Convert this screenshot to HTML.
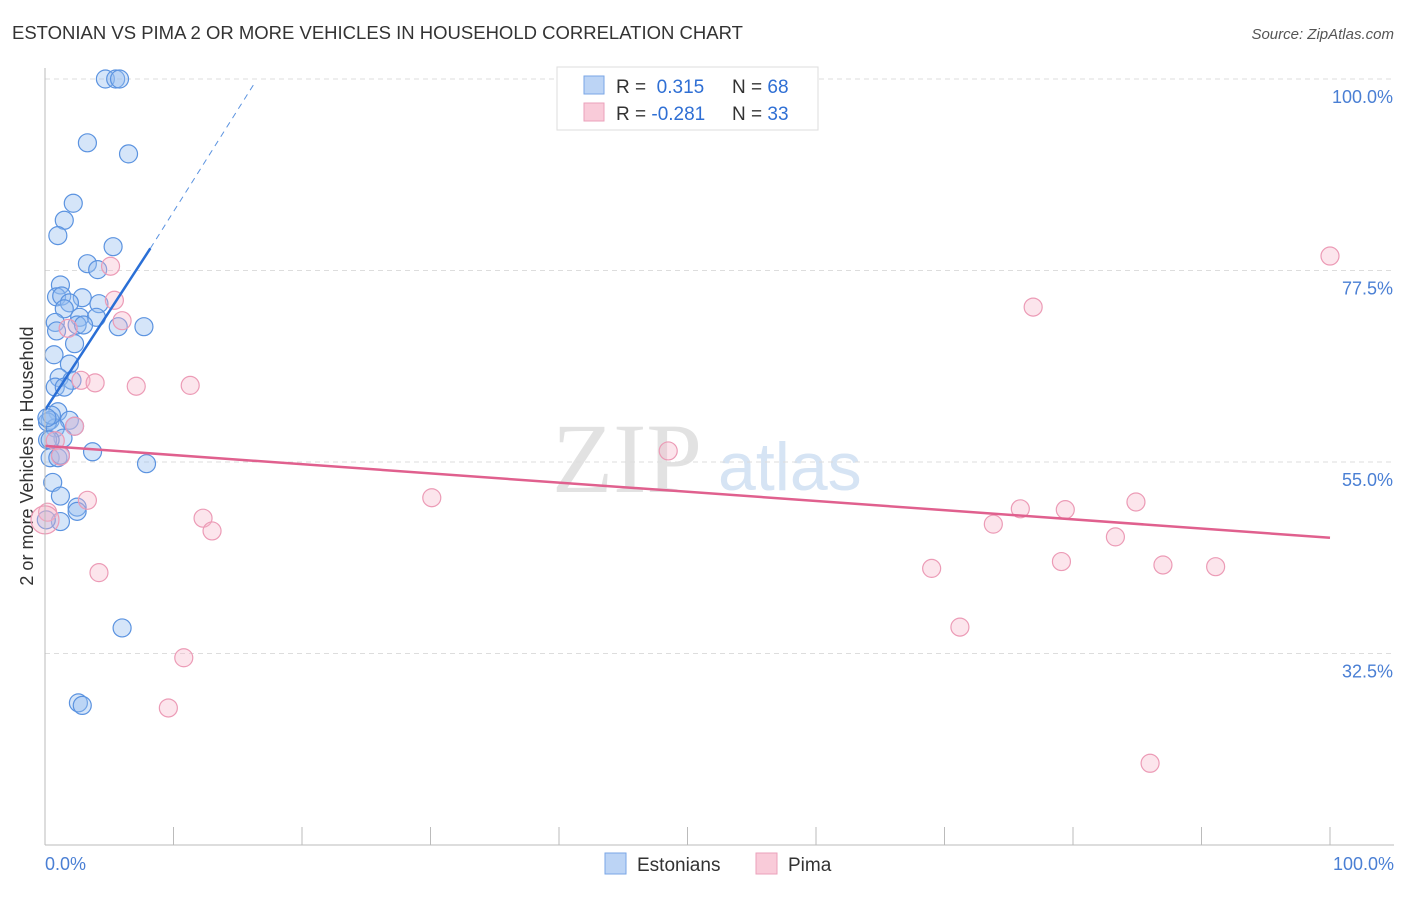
<!DOCTYPE html>
<html><head><meta charset="utf-8"><style>
body{margin:0;background:#fff;font-family:"Liberation Sans",sans-serif}
</style></head><body>
<svg id="c" width="1406" height="892" xmlns="http://www.w3.org/2000/svg" font-family="Liberation Sans, sans-serif">
<text x="12" y="39" font-size="18.5" fill="#333">ESTONIAN VS PIMA 2 OR MORE VEHICLES IN HOUSEHOLD CORRELATION CHART</text>
<text x="1394" y="39" font-size="15" fill="#555" font-style="italic" text-anchor="end">Source: ZipAtlas.com</text>
<text x="0" y="0" font-size="18" fill="#333" text-anchor="middle" transform="translate(33,456) rotate(-90)">2 or more Vehicles in Household</text>
<text x="552" y="492" font-size="100" fill="#e2e2e2" font-family="Liberation Serif, serif">ZIP</text>
<text x="718" y="490" font-size="68" fill="#d6e4f4">atlas</text>
<g id="grid"></g><g id="pts"></g><g id="lines"></g>
<line x1="45" y1="68" x2="45" y2="845" stroke="#bbb"/>
<line x1="45" y1="845" x2="1394" y2="845" stroke="#bbb"/>
<text x="45" y="870" font-size="18" fill="#4a7fd4">0.0%</text>
<text x="1394" y="870" font-size="18" fill="#4a7fd4" text-anchor="end">100.0%</text>
<g>
<rect x="557" y="67" width="261" height="63" fill="#fff" stroke="#ddd"/>
<rect x="584" y="76" width="20" height="18" fill="#bcd4f5" stroke="#7aa6e6"/>
<rect x="584" y="103" width="20" height="18" fill="#f9cbd9" stroke="#eba2bb"/>
<text x="616" y="93" font-size="19" fill="#333">R = <tspan fill="#2f6fd4">&#160;0.315</tspan><tspan x="732">N = </tspan><tspan fill="#2f6fd4">68</tspan></text>
<text x="616" y="120" font-size="19" fill="#333">R = <tspan fill="#2f6fd4">-0.281</tspan><tspan x="732">N = </tspan><tspan fill="#2f6fd4">33</tspan></text>
</g>
<g>
<rect x="605" y="853" width="21" height="21" fill="#bcd4f5" stroke="#7aa6e6"/>
<text x="637" y="871" font-size="19" fill="#333">Estonians</text>
<rect x="756" y="853" width="21" height="21" fill="#f9cbd9" stroke="#eba2bb"/>
<text x="788" y="871" font-size="19" fill="#333">Pima</text>
</g>
</svg>
<script>
const yTicks=[100,77.5,55,32.5];
const yTickLabels=["100.0%","77.5%","55.0%","32.5%"];
const xTicks=[0,10,20,30,40,50,60,70,80,90,100];
const estX=[4.7,5.5,5.8,3.3,6.5,2.2,1.5,1.0,5.3,3.3,4.1,1.2,0.9,1.3,2.9,1.9,4.2,1.5,2.7,4.0,2.5,3.0,0.8,0.9,5.7,7.7,2.3,0.7,1.9,1.1,2.1,0.8,1.5,1.0,1.9,0.4,0.2,0.8,2.3,1.4,0.2,3.7,0.4,1.0,7.9,0.6,1.2,2.5,2.5,1.2,0.1,6.0,2.6,2.9,0.4,0.5,0.15,1.2];
const estY=[100,100,100,92.5,91.2,85.4,83.4,81.6,80.3,78.3,77.6,75.8,74.4,74.5,74.3,73.7,73.6,73.0,72.0,72.0,71.1,71.1,71.4,70.4,70.9,70.9,68.9,67.6,66.5,64.9,64.6,63.8,63.8,60.9,59.9,59.9,59.7,59.0,59.2,57.8,57.6,56.2,55.5,55.5,54.8,52.6,51.0,49.7,49.2,48.0,48.2,35.5,26.7,26.4,57.6,60.5,60.2,55.8];
const pimaX=[100,5.1,5.4,76.9,6.0,1.8,2.8,3.9,7.1,11.3,2.3,48.5,0.8,1.2,3.3,30.1,12.3,13.0,0.2,0,73.8,75.9,79.4,84.9,83.3,4.2,69.0,79.1,87.0,91.1,71.2,10.8,9.6,86.0];
const pimaY=[79.2,78.0,74.0,73.2,71.6,70.7,64.6,64.3,63.9,64.0,59.2,56.3,57.5,55.7,50.5,50.8,48.4,46.9,49.1,48.2,47.7,49.5,49.4,50.3,46.2,42.0,42.5,43.3,42.9,42.7,35.6,32.0,26.1,19.6];
const estTrend=[[0,61.1],[8.2,80.1],[16.3,99.5]];
const pimaTrend=[[0,56.9],[100,46.1]];
const NS="http://www.w3.org/2000/svg";
const sx=v=>45+v*12.85, sy=v=>79+(100-v)*8.511;
function mk(t,a,p){const e=document.createElementNS(NS,t);for(const k in a)e.setAttribute(k,a[k]);p.appendChild(e);return e;}
const g=document.getElementById('grid');
yTicks.forEach((t,i)=>{
 const l=mk('line',{x1:45,x2:1394,y1:sy(t),y2:sy(t),stroke:'#ddd','stroke-dasharray':'5,4'},g);
 
 
 const tx=mk('text',{x:1393,y:sy(t)+24,'font-size':18,fill:'#4a7fd4','text-anchor':'end'},g);
 tx.textContent=yTickLabels[i];
 
 
});
xTicks.forEach(t=>{
 const l=mk('line',{x1:sx(t),x2:sx(t),y1:827,y2:845,stroke:'#bbb'},g);
 
 
});
const p=document.getElementById('pts');
estX.forEach((x,i)=>{
 const c=mk('circle',{cx:sx(x),cy:sy(estY[i]),r:9,fill:'rgba(150,190,240,0.4)',stroke:'#5b93e0','stroke-width':1.2},p);
 
 
});
pimaX.forEach((x,i)=>{
 const c=mk('circle',{cx:sx(x),cy:sy(pimaY[i]),r:i==19?14:9,fill:'rgba(245,180,200,0.35)',stroke:'#ec9bb6','stroke-width':1.2},p);
 
 
});
const L=document.getElementById('lines');
const b1=mk('line',{x1:sx(estTrend[0][0]),y1:sy(estTrend[0][1]),x2:sx(estTrend[1][0]),y2:sy(estTrend[1][1]),stroke:'#2a6fd6','stroke-width':2.5},L);


const b2=mk('line',{x1:sx(estTrend[1][0]),y1:sy(estTrend[1][1]),x2:sx(estTrend[2][0]),y2:sy(estTrend[2][1]),stroke:'#5b93e0','stroke-width':1,'stroke-dasharray':'6,5'},L);


const p1=mk('line',{x1:sx(pimaTrend[0][0]),y1:sy(pimaTrend[0][1]),x2:sx(pimaTrend[1][0]),y2:sy(pimaTrend[1][1]),stroke:'#e0608e','stroke-width':2.5},L);


</script>
</body></html>
